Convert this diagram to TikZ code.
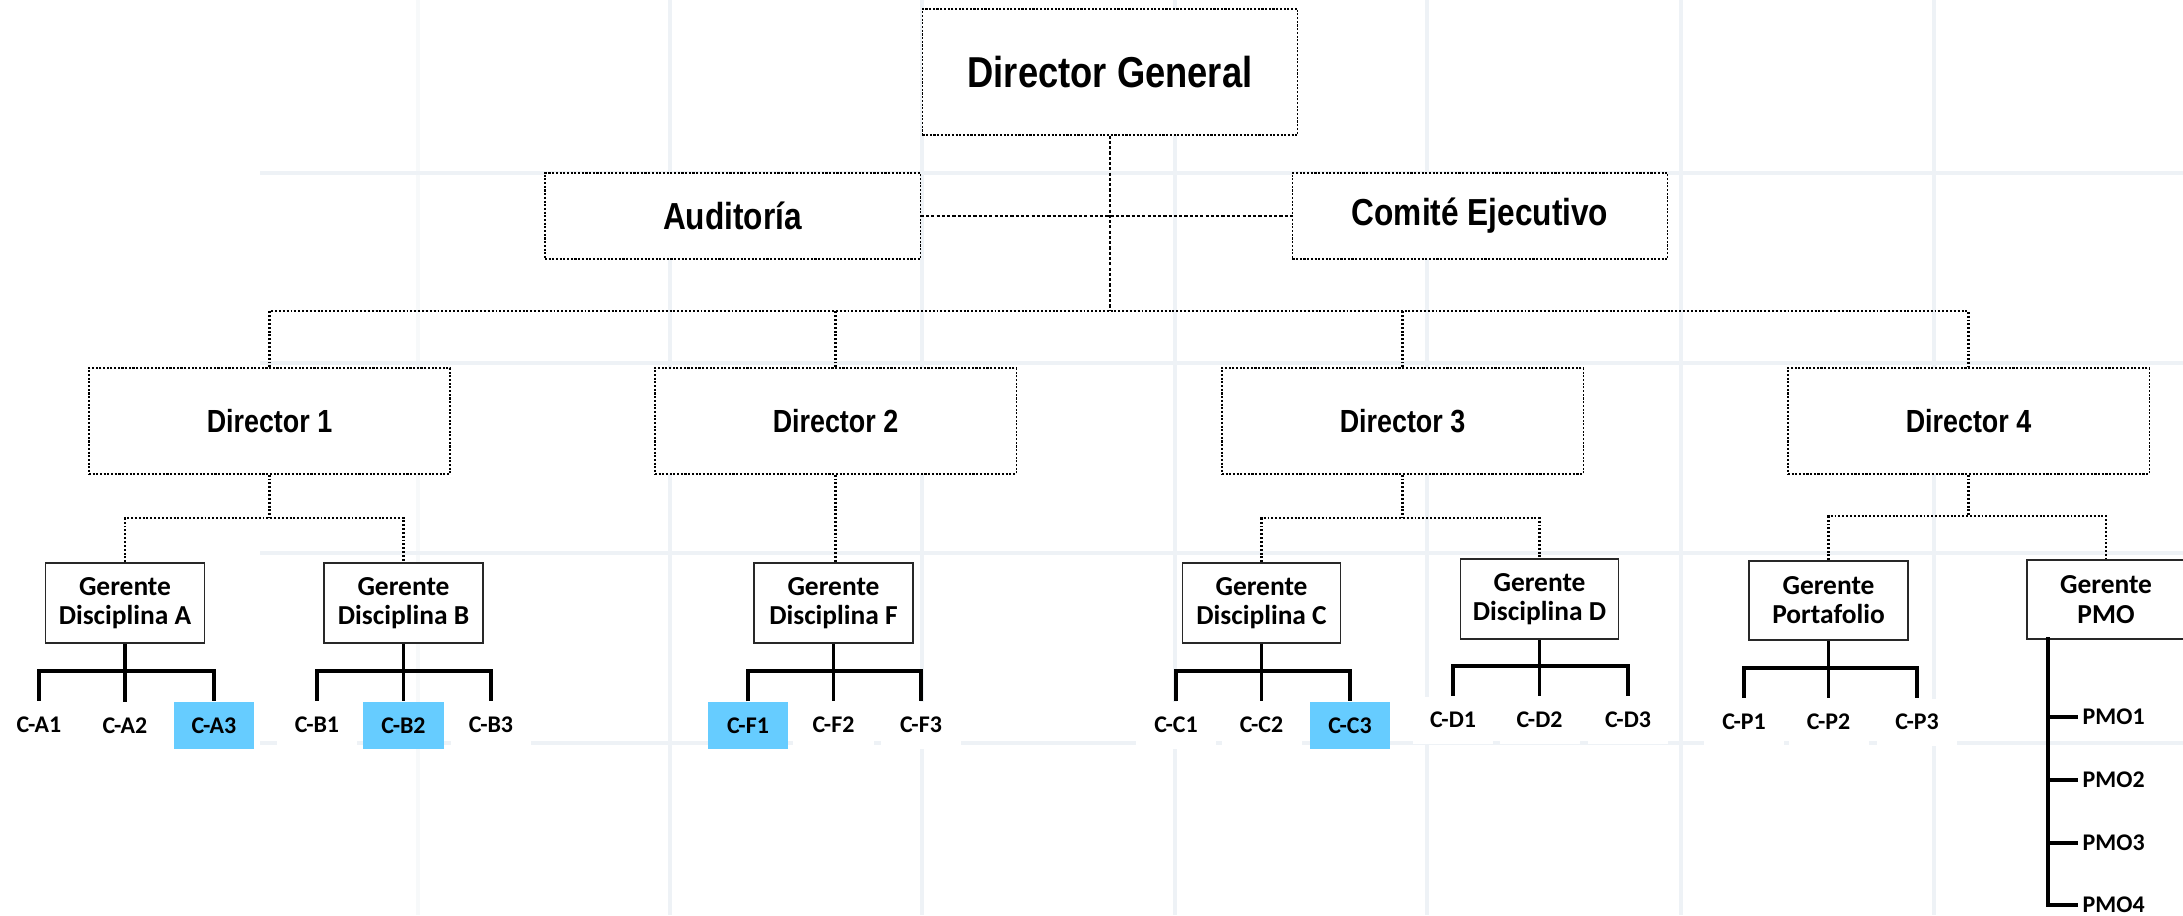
\documentclass[tikz,border=0pt]{standalone}
\usepackage{fontspec}
\newfontfamily\narrowsans{Liberation Sans}[FakeStretch=0.84]
\newfontfamily\calsans{Carlito}
\definecolor{gridc}{RGB}{238,242,246}
\definecolor{hlblue}{RGB}{102,204,255}
\definecolor{boxline}{RGB}{40,40,40}

\begin{document}
\begin{tikzpicture}[x=0.01cm,y=-0.01cm,
  gridline/.style={draw=gridc, line width=1.2pt},
  topbox/.style={draw=black, line width=0.35pt, dash pattern=on 0.6pt off 0.45pt,
    fill=white, inner sep=0pt, font=\narrowsans\bfseries},
  dgbox/.style={topbox, minimum width=3.75cm, minimum height=1.26cm,
    font=\narrowsans\bfseries\fontsize{12.3}{14}\selectfont},
  sidebox/.style={topbox, minimum width=3.75cm, minimum height=0.86cm,
    font=\narrowsans\bfseries\fontsize{10.7}{12}\selectfont},
  dirbox/.style={topbox, minimum width=3.61cm, minimum height=1.06cm,
    font=\narrowsans\bfseries\fontsize{9.1}{11}\selectfont},
  mgrbox/.style={draw=boxline, line width=0.4pt, fill=white, minimum width=1.59cm,
    minimum height=0.8cm, align=center, inner sep=0pt,
    font=\calsans\bfseries\fontsize{7.8}{8.3}\selectfont},
  leaf/.style={fill=white, minimum width=0.8cm, minimum height=0.47cm, inner sep=0pt,
    font=\calsans\bfseries\fontsize{6.8}{8}\selectfont},
  hlleaf/.style={leaf, fill=hlblue},
  pmoleaf/.style={anchor=west, inner ysep=0pt, inner xsep=0.04cm,
    font=\calsans\bfseries\fontsize{6.8}{8}\selectfont},
  link/.style={draw=black, line width=0.62pt, dash pattern=on 0.55pt off 0.55pt},
  thinlink/.style={draw=black, line width=0.38pt, dash pattern=on 0.9pt off 0.6pt},
  bar/.style={draw=black, line width=1pt}
]
\useasboundingbox (0,0) rectangle (2183,915);
\fill[white] (0,0) rectangle (2183,915);

% faint background grid
\draw[gridline, draw opacity=0.45] (418,0) -- (418,915);
\foreach \gx in {670,922,1175,1427,1681,1934}
  \draw[gridline] (\gx,0) -- (\gx,915);
\foreach \gy in {173,363,553,743}
  \draw[gridline] (260,\gy) -- (2183,\gy);

% top level
\node[dgbox] (dg) at (1110,72) {Director General};
\node[sidebox] (aud) at (732.5,216) {Auditoría};
\node[sidebox] (com) at (1480,216) {Comité Ejecutivo};

% directors
\node[dirbox] (d1) at (269.5,421) {Director 1};
\node[dirbox] (d2) at (835.5,421) {Director 2};
\node[dirbox] (d3) at (1402.5,421) {Director 3};
\node[dirbox] (d4) at (1968.5,421) {Director 4};

% managers
\node[mgrbox] (gA) at (125,603) {Gerente\\Disciplina A};
\node[mgrbox] (gB) at (403.5,603) {Gerente\\Disciplina B};
\node[mgrbox] (gF) at (833.5,603) {Gerente\\Disciplina F};
\node[mgrbox, minimum width=1.58cm] (gC) at (1261.5,603) {Gerente\\Disciplina C};
\node[mgrbox, minimum width=1.58cm] (gD) at (1539.5,599) {Gerente\\Disciplina D};
\node[mgrbox, minimum height=0.79cm] (gPort) at (1828.5,600.5) {Gerente\\Portafolio};
\node[mgrbox, minimum width=1.58cm, minimum height=0.79cm] (gPMO) at (2106,599.5) {Gerente\\PMO};

% coordinators
\node[leaf]   (ca1) at (39,725)    {C-A1};
\node[leaf]   (ca2) at (125,726)   {C-A2};
\node[hlleaf] (ca3) at (214,725.5) {C-A3};
\node[leaf]   (cb1) at (317,725)   {C-B1};
\node[hlleaf] (cb2) at (403.5,725.5) {C-B2};
\node[leaf]   (cb3) at (491,725)   {C-B3};
\node[hlleaf] (cf1) at (748,725.5) {C-F1};
\node[leaf]   (cf2) at (833.5,725) {C-F2};
\node[leaf]   (cf3) at (921,725)   {C-F3};
\node[leaf]   (cc1) at (1176,725)  {C-C1};
\node[leaf]   (cc2) at (1261.5,725) {C-C2};
\node[hlleaf] (cc3) at (1350,725.5) {C-C3};
\node[leaf]   (cd1) at (1453,720)  {C-D1};
\node[leaf]   (cd2) at (1539.5,720) {C-D2};
\node[leaf]   (cd3) at (1628,720)  {C-D3};
\node[leaf]   (cp1) at (1744,722)  {C-P1};
\node[leaf]   (cp2) at (1828.5,722) {C-P2};
\node[leaf]   (cp3) at (1917,722)  {C-P3};
\node[pmoleaf] (pmo1) at (2078,717) {PMO1};
\node[pmoleaf] (pmo2) at (2078,780) {PMO2};
\node[pmoleaf] (pmo3) at (2078,843) {PMO3};
\node[pmoleaf] (pmo4) at (2078,905) {PMO4};

% top-level connectors
\coordinate (bus) at (1110,311);
\draw[thinlink] (dg.south) -- (bus);
\draw[thinlink] (aud.east) -- (com.west);
\draw[link] (d1.north) |- (bus) -| (d4.north);
\draw[link] (d2.north) -- (d2.north |- bus);
\draw[link] (d3.north) -- (d3.north |- bus);

% director to manager connectors
\coordinate (k1) at (269.5,518);
\coordinate (k3) at (1402.5,518);
\coordinate (k4) at (1968.5,516);
\draw[link] (d1.south) -- (k1);
\draw[link] (gA.north) |- (k1) -| (gB.north);
\draw[link] (d2.south) -- (d2.south |- gF.north);
\draw[link] (d3.south) -- (k3);
\draw[link] (gC.north) |- (k3) -| (gD.north);
\draw[link] (d4.south) -- (k4);
\draw[link] (gPort.north) |- (k4) -| (gPMO.north);

% manager to coordinator brackets
\coordinate (jA) at (125,671);
\coordinate (jB) at (403.5,671);
\coordinate (jF) at (833.5,671);
\coordinate (jC) at (1261.5,671);
\coordinate (jD) at (1539.5,666);
\coordinate (jP) at (1828.5,668);
\draw[bar] (ca1.north) |- (jA) -| (ca3.north);
\draw[bar] (gA.south) -- (ca2.north);
\draw[bar] (cb1.north) |- (jB) -| (cb3.north);
\draw[bar] (gB.south) -- (cb2.north);
\draw[bar] (cf1.north) |- (jF) -| (cf3.north);
\draw[bar] (gF.south) -- (cf2.north);
\draw[bar] (cc1.north) |- (jC) -| (cc3.north);
\draw[bar] (gC.south) -- (cc2.north);
\draw[bar] (cd1.north) |- (jD) -| (cd3.north);
\draw[bar] (gD.south) -- (cd2.north);
\draw[bar] (cp1.north) |- (jP) -| (cp3.north);
\draw[bar] (gPort.south) -- (cp2.north);

% PMO list
\coordinate (pv) at (2048,637);
\draw[bar] (pv) |- (pmo4.west);
\foreach \p in {pmo1,pmo2,pmo3}
  \draw[bar] (pv |- \p.west) -- (\p.west);
\end{tikzpicture}
\end{document}
